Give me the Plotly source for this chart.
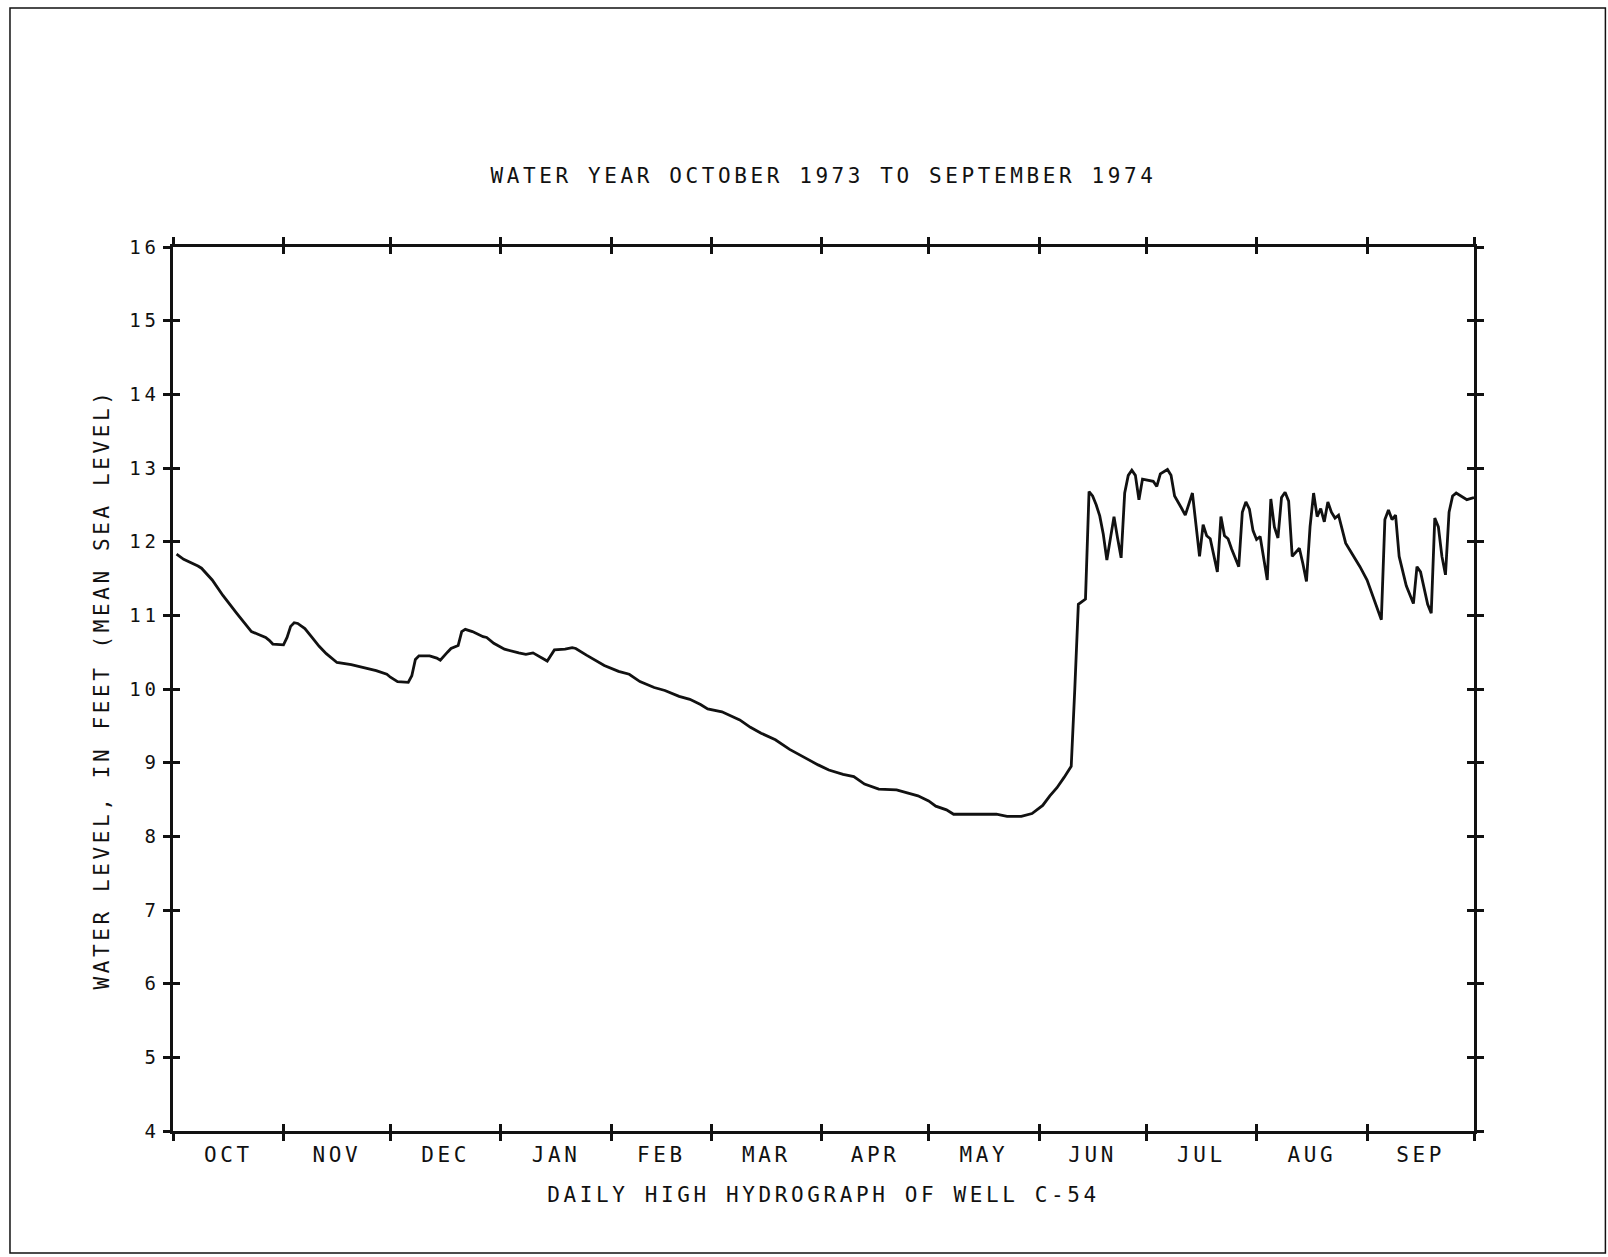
import plotly.graph_objects as go

# ---- data (read from the hydrograph) ----
# day of water year (Oct 1, 1973 = day 1) and daily-high water level (ft above MSL)
DAY = [1, 3, 7, 8, 11, 14, 18, 22, 24, 26, 27, 28, 31, 32, 33, 34, 35, 37, 39, 41,
       43, 46, 50, 53, 57, 60, 61, 63, 66, 67, 68, 69, 72, 74, 75, 77, 78, 80, 81, 82,
       84, 87, 88, 90, 93, 97, 99, 101, 103, 105, 107, 110, 112, 113, 116, 118, 121, 125, 128, 131,
       135, 138, 142, 145, 148, 150, 154, 159, 162, 165, 169, 173, 177, 181, 184, 188, 191, 194, 198, 203,
       206, 209, 212, 214, 217, 219, 224, 231, 234, 238, 241, 244, 246, 248, 250, 252, 253, 254, 256, 257,
       258, 259, 260, 261, 262, 263, 264, 265, 266, 267, 268, 269, 270, 271, 272, 275, 276, 277, 279, 280,
       281, 283, 284, 286, 287, 288, 289, 290, 291, 293, 294, 295, 296, 297, 299, 300, 301, 302, 303, 304,
       305, 307, 308, 309, 310, 311, 312, 313, 314, 316, 317, 318, 319, 320, 321, 322, 323, 324, 325, 326,
       327, 329, 331, 333, 335, 337, 339, 340, 341, 342, 343, 344, 346, 348, 349, 350, 352, 353, 354, 355,
       356, 357, 358, 359, 360, 363, 365]
LEVEL = [11.83, 11.76, 11.67, 11.64, 11.48, 11.27, 11.02, 10.78, 10.74, 10.70, 10.66, 10.61, 10.60, 10.70, 10.85, 10.90, 10.89, 10.82, 10.70, 10.58,
         10.48, 10.36, 10.33, 10.30, 10.25, 10.20, 10.16, 10.10, 10.09, 10.18, 10.40, 10.45, 10.45, 10.42, 10.39, 10.50, 10.55, 10.59, 10.78, 10.81,
         10.78, 10.71, 10.70, 10.62, 10.54, 10.49, 10.47, 10.49, 10.43, 10.38, 10.53, 10.54, 10.56, 10.55, 10.46, 10.40, 10.32, 10.24, 10.20, 10.10,
         10.02, 9.98, 9.90, 9.86, 9.79, 9.73, 9.69, 9.58, 9.48, 9.40, 9.31, 9.18, 9.07, 8.97, 8.90, 8.84, 8.81, 8.71, 8.64, 8.63,
         8.59, 8.55, 8.48, 8.41, 8.36, 8.30, 8.30, 8.30, 8.27, 8.27, 8.31, 8.42, 8.55, 8.66, 8.80, 8.95, 10.00, 11.15, 11.22, 12.68,
         12.62, 12.50, 12.35, 12.10, 11.75, 12.05, 12.34, 12.05, 11.78, 12.66, 12.90, 12.97, 12.90, 12.57, 12.85, 12.82, 12.75, 12.92, 12.98, 12.90,
         12.62, 12.45, 12.36, 12.66, 12.25, 11.80, 12.23, 12.08, 12.04, 11.59, 12.34, 12.08, 12.04, 11.90, 11.66, 12.40, 12.54, 12.44, 12.15, 12.03,
         12.07, 11.48, 12.58, 12.20, 12.05, 12.60, 12.67, 12.55, 11.80, 11.91, 11.70, 11.46, 12.20, 12.66, 12.34, 12.45, 12.27, 12.54, 12.40, 12.32,
         12.36, 11.98, 11.82, 11.66, 11.48, 11.20, 10.94, 12.30, 12.43, 12.30, 12.36, 11.80, 11.40, 11.16, 11.66, 11.59, 11.15, 11.03, 12.32, 12.20,
         11.80, 11.55, 12.40, 12.62, 12.66, 12.57, 12.60]

MONTHS = ["OCT", "NOV", "DEC", "JAN", "FEB", "MAR", "APR", "MAY", "JUN", "JUL", "AUG", "SEP"]
MONTH_DAYS = [31, 30, 31, 31, 28, 31, 30, 31, 30, 31, 31, 30]
Y_TICKS = [4, 5, 6, 7, 8, 9, 10, 11, 12, 13, 14, 15, 16]

TITLE = "WATER YEAR OCTOBER 1973 TO SEPTEMBER 1974"
X_TITLE = "DAILY HIGH HYDROGRAPH OF WELL C-54"
Y_TITLE = "WATER LEVEL, IN FEET (MEAN SEA LEVEL)"

# derived tick positions
bounds = [0]
for d in MONTH_DAYS:
    bounds.append(bounds[-1] + d)
mids = [(bounds[i] + bounds[i + 1]) / 2 for i in range(len(MONTH_DAYS))]

FONT = "DejaVu Sans Mono"
INK = "#111111"

fig = go.Figure()
fig.add_trace(go.Scatter(x=DAY, y=LEVEL, mode="lines",
                         line=dict(color=INK, width=2.8),
                         showlegend=False, hoverinfo="skip"))
# empty carriers so the overlaid tick-only axes get drawn
for xa, ya in (("x2", "y"), ("x3", "y"), ("x", "y2")):
    fig.add_trace(go.Scatter(x=[None], y=[None], xaxis=xa, yaxis=ya, mode="lines",
                             showlegend=False, hoverinfo="skip"))

common_x = dict(range=[0, 365], showgrid=False, zeroline=False, fixedrange=True)
common_y = dict(range=[4, 16], showgrid=False, zeroline=False, fixedrange=True)

fig.update_layout(
    width=1608, height=1257,
    margin=dict(l=173, r=134, t=247, b=126),
    paper_bgcolor="white", plot_bgcolor="white",
    font=dict(family=FONT, color=INK, size=20),
    title=dict(text=TITLE, x=0.5, xref="paper", xanchor="center",
               y=1 - 176 / 1257, yref="container", yanchor="middle",
               font=dict(family=FONT, size=21, color=INK)),
    xaxis=dict(**common_x, tickmode="array", tickvals=mids, ticktext=MONTHS,
               ticks="", showline=True, linewidth=2.5, linecolor=INK, mirror=True,
               ticklabelstandoff=3,
               tickfont=dict(family=FONT, size=21, color=INK),
               title=dict(text=X_TITLE, standoff=22,
                          font=dict(family=FONT, size=21, color=INK))),
    xaxis2=dict(**common_x, overlaying="x", anchor="y", side="bottom",
                tickmode="array", tickvals=bounds, ticks="outside", ticklen=7,
                tickwidth=2.5, tickcolor=INK, showticklabels=False,
                showline=True, linewidth=2.5, linecolor=INK, mirror="ticks"),
    xaxis3=dict(**common_x, overlaying="x", anchor="y", side="bottom",
                tickmode="array", tickvals=bounds, ticks="inside", ticklen=7,
                tickwidth=2.5, tickcolor=INK, showticklabels=False,
                showline=True, linewidth=2.5, linecolor=INK, mirror="ticks"),
    yaxis=dict(**common_y, tickmode="array", tickvals=Y_TICKS,
               ticktext=[str(v) for v in Y_TICKS],
               ticks="outside", ticklen=7, tickwidth=2.5, tickcolor=INK,
               showline=True, linewidth=2.5, linecolor=INK, mirror="ticks",
               tickfont=dict(family=FONT, size=19, color=INK),
               title=dict(text=Y_TITLE, standoff=22,
                          font=dict(family=FONT, size=21, color=INK))),
    yaxis2=dict(**common_y, overlaying="y", anchor="x", side="left",
                tickmode="array", tickvals=Y_TICKS, ticks="inside", ticklen=7,
                tickwidth=2.5, tickcolor=INK, showticklabels=False,
                showline=True, linewidth=2.5, linecolor=INK, mirror="ticks"),
)

# outer frame of the page
fig.add_shape(type="rect", xref="paper", yref="paper",
              x0=-0.1253, x1=1.101, y0=-0.1379, y1=1.2703,
              line=dict(color=INK, width=1.5), layer="below")

css = ("var s=document.createElement('style');"
       "s.textContent='.main-svg text{letter-spacing:3.6px;}';"
       "document.head.appendChild(s);")
fig.write_html("out.html", post_script=css)
